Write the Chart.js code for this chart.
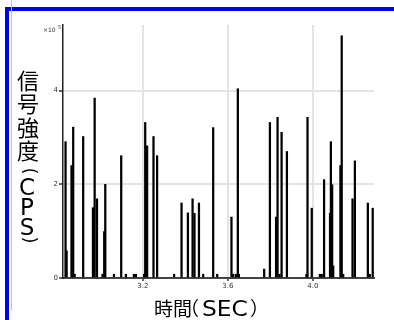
<!DOCTYPE html>
<html>
<head>
<meta charset="utf-8">
<script src="https://cdn.jsdelivr.net/npm/chart.js@4/dist/chart.umd.min.js"></script>
<style>
  body { margin: 0; background: #fff; }
  #wrap { position: relative; width: 394px; height: 320px; overflow: hidden; }
  #frame { position: absolute; left: 5px; top: 7px; width: 420px; height: 340px;
           border-left: 4px solid #0000f0; border-top: 4px solid #0000f0; }
  #rule { position: absolute; left: 11px; top: 0; width: 1px; height: 310px; background: #a8ccf0; }
</style>
</head>
<body>
<div id="wrap">
  <canvas id="chart" width="394" height="320"></canvas>
  <div id="frame"></div>
  <div id="rule"></div>
</div>
<script>
// peak times (sec) and signal intensity (x10^5 CPS)
const TIMES = [2.836, 2.841, 2.864, 2.872, 2.879, 2.919, 2.965, 2.973, 2.984, 3.010,
               3.018, 3.023, 3.064, 3.098, 3.120, 3.158, 3.167, 3.206, 3.211, 3.220,
               3.250, 3.267, 3.347, 3.382, 3.412, 3.434, 3.443, 3.464, 3.484, 3.531,
               3.550, 3.617, 3.625, 3.638, 3.647, 3.652, 3.771, 3.798, 3.827, 3.834,
               3.843, 3.853, 3.878, 3.970, 3.975, 3.995, 4.033, 4.042, 4.053, 4.081,
               4.085, 4.091, 4.096, 4.130, 4.136, 4.143, 4.187, 4.198, 4.259, 4.268, 4.282];
const INTENSITY = [2.91, 0.58, 2.40, 3.22, 0.08, 3.02, 1.50, 3.84, 1.69, 0.08,
                   0.99, 2.00, 0.08, 2.61, 0.08, 0.08, 0.08, 0.08, 3.32, 2.82,
                   3.02, 2.61, 0.08, 1.60, 1.39, 1.69, 1.38, 1.60, 0.08, 3.21,
                   0.08, 1.30, 0.08, 0.08, 4.04, 0.08, 0.19, 3.32, 1.30, 3.43,
                   0.08, 3.11, 2.70, 0.08, 3.43, 1.49, 0.08, 0.08, 2.10, 1.38,
                   2.91, 1.99, 0.26, 2.40, 5.17, 0.08, 1.69, 2.50, 1.60, 0.08, 1.49];
const X_TICKS = [3.2, 3.6, 4.0];
const X_LABELS = ['3.2', '3.6', '4.0'];
const Y_TICKS = [0, 2, 4];
const Y_LABELS = ['0', '2', '4'];
const Y_TITLE = ['信', '号', '強', '度', '(', 'C', 'P', 'S', ')'];
const X_TITLE = ['時間', '（', 'SEC', '）'];

const CJK = '"Noto Sans CJK JP", "Noto Sans", sans-serif';
const LATIN = '"DejaVu Sans", sans-serif';

// put a piece of text so that its ink runs from inkLeft (to inkRight if given)
function drawInk(ctx, text, font, inkLeft, y, inkRight) {
    ctx.font = font;
    const m = ctx.measureText(text);
    const w = m.actualBoundingBoxLeft + m.actualBoundingBoxRight;
    const sx = inkRight ? (inkRight - inkLeft) / w : 1;
    ctx.save();
    ctx.translate(inkLeft, y);
    ctx.scale(sx, 1);
    ctx.fillText(text, m.actualBoundingBoxLeft, 0);
    ctx.restore();
}

// titles and the x10^5 multiplier
const titlePlugin = {
    id: 'titles',
    afterDraw(chart) {
        const ctx = chart.ctx;
        ctx.save();
        ctx.fillStyle = '#000';

        // y title is stacked upright, parentheses turned for vertical writing
        const ys = [81, 104, 128, 151, 171, 195, 215, 235, 240];
        ctx.textAlign = 'center';
        Y_TITLE.forEach((ch, i) => {
            if (ch === '(' || ch === ')') {
                ctx.save();
                ctx.textBaseline = 'middle';
                ctx.translate(28, ys[i]);
                ctx.rotate(Math.PI / 2);
                ctx.font = '17px ' + LATIN;
                ctx.fillText(ch, 0, 0);
                ctx.restore();
            } else if (/[A-Z]/.test(ch)) {
                ctx.textBaseline = 'alphabetic';
                ctx.font = '23px ' + LATIN;
                ctx.fillText(ch, 27, ys[i]);
            } else {
                ctx.textBaseline = 'middle';
                ctx.font = '22px ' + CJK;
                ctx.fillText(ch, 28, ys[i]);
            }
        });

        // x title, pieces placed by their ink
        ctx.textAlign = 'left';
        ctx.textBaseline = 'alphabetic';
        drawInk(ctx, X_TITLE[0], '19px ' + CJK, 155, 316);
        drawInk(ctx, X_TITLE[1], '19px ' + CJK, 193, 316);
        drawInk(ctx, X_TITLE[2], '21px ' + LATIN, 203, 316, 247);
        drawInk(ctx, X_TITLE[3], '19px ' + CJK, 250, 316);

        ctx.fillStyle = '#333';
        ctx.textBaseline = 'middle';
        ctx.font = '6px ' + LATIN;
        ctx.fillText('×10', 43, 30);
        ctx.font = '5px ' + LATIN;
        ctx.fillText('5', 58, 28);
        ctx.restore();
    }
};

new Chart(document.getElementById('chart').getContext('2d'), {
    type: 'bar',
    data: {
        datasets: [{
            data: TIMES.map((t, i) => ({ x: t, y: INTENSITY[i] })),
            backgroundColor: '#000',
            borderWidth: 0,
            barThickness: 1.6
        }]
    },
    options: {
        responsive: false,
        animation: false,
        layout: { padding: { left: 43, right: 20, top: 25, bottom: 22 } },
        plugins: { legend: { display: false }, tooltip: { enabled: false } },
        scales: {
            x: {
                type: 'linear',
                min: 2.824,
                max: 4.288,
                offset: false,
                grid: { offset: false, color: '#e4e4e4', lineWidth: 2, tickLength: 3, tickColor: '#666' },
                border: { color: '#444', width: 2 },
                ticks: {
                    font: { size: 7, family: LATIN },
                    color: '#333',
                    padding: 1,
                    maxRotation: 0,
                    callback: (v) => X_LABELS[X_TICKS.indexOf(v)]
                },
                afterBuildTicks: (s) => { s.ticks = X_TICKS.map(v => ({ value: v })); },
                afterFit: (s) => { s.height = 20; }
            },
            y: {
                min: 0,
                max: 5.4,
                grid: { color: '#e4e4e4', lineWidth: 2, tickLength: 4, tickColor: '#666' },
                border: { color: '#222', width: 1.5 },
                ticks: {
                    font: { size: 7, family: LATIN },
                    color: '#333',
                    padding: 1,
                    callback: (v) => Y_LABELS[Y_TICKS.indexOf(v)]
                },
                afterBuildTicks: (s) => { s.ticks = Y_TICKS.map(v => ({ value: v })); },
                afterFit: (s) => { s.width = 20; }
            }
        }
    },
    plugins: [titlePlugin]
});
</script>
</body>
</html>
